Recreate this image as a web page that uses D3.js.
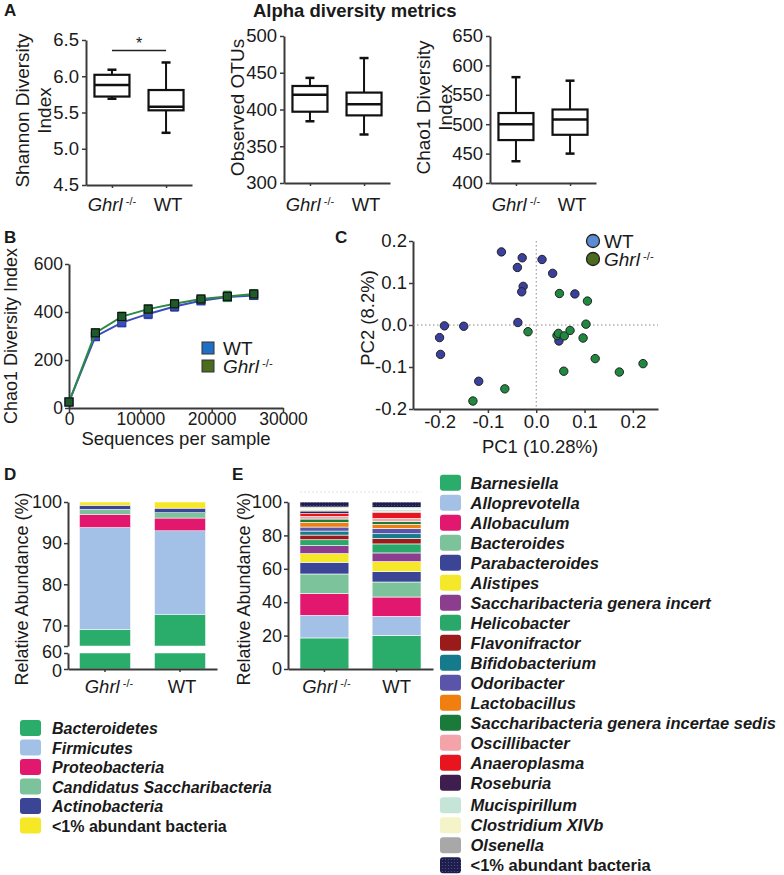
<!DOCTYPE html>
<html>
<head>
<meta charset="utf-8">
<script src="https://cdn.jsdelivr.net/npm/d3@7"></script>
<style>
body { margin: 0; background: #fff; }
svg { font-family: "Liberation Sans", Arial, sans-serif; }
</style>
</head>
<body>
<svg id="fig" width="784" height="875"></svg>
<script>
var groups = ["Ghrl", "WT"];

// A: box stats [min, q1, median, q3, max]
var shannonKO = [5.69, 5.72, 5.88, 6.02, 6.09];
var shannonWT = [5.22, 5.53, 5.58, 5.81, 6.19];
var otusKO = [384, 397, 420, 432, 443];
var otusWT = [366, 392, 407, 423, 470];
var chaoKO = [437, 473, 500, 519, 580];
var chaoWT = [450, 482, 508, 525, 574];

// B: rarefaction
var depth = [0, 3700, 7400, 11100, 14800, 18500, 22200, 25900];
var rareWT = [25, 298, 356, 392, 423, 447, 462, 469];
var rareWTerr = [8, 16, 16, 18, 18, 15, 14, 14];
var rareKO = [25, 313, 381, 412, 434, 454, 465, 475];
var rareKOerr = [8, 16, 17, 17, 16, 15, 20, 17];

// C: PCoA
var pc1WT = [-0.072, -0.029, -0.039, -0.027, -0.030, 0.012, 0.034, 0.080, -0.038, -0.190, -0.150, -0.200, -0.198, -0.119, 0.047];
var pc2WT = [0.174, 0.160, 0.137, 0.092, 0.079, 0.156, 0.123, 0.074, 0.006, -0.002, -0.003, -0.030, -0.070, -0.134, -0.038];
var pc1KO = [0.048, 0.106, 0.103, -0.017, 0.043, 0.046, 0.058, 0.070, 0.097, 0.122, 0.057, 0.172, 0.221, -0.065, -0.131];
var pc2KO = [0.075, 0.057, 0.002, -0.016, -0.025, -0.020, -0.026, -0.013, -0.031, -0.080, -0.110, -0.112, -0.092, -0.152, -0.181];

// D: phyla
var phyla = ["Bacteroidetes", "Firmicutes", "Proteobacteria", "Candidatus Saccharibacteria", "Actinobacteria", "<1% abundant bacteria"];
var phylaColors = ["#2aac6a", "#a3c1e6", "#e2186f", "#7cc29a", "#3a4596", "#f7e827"];
var phylaKO = [69.0, 24.8, 3.2, 1.2, 1.0, 0.8];
var phylaWT = [72.6, 20.4, 3.1, 1.3, 1.1, 1.5];

// E: genera
var genera = ["Barnesiella", "Alloprevotella", "Allobaculum", "Bacteroides", "Parabacteroides", "Alistipes",
  "Saccharibacteria genera incert", "Helicobacter", "Flavonifractor", "Bifidobacterium", "Odoribacter",
  "Lactobacillus", "Saccharibacteria genera incertae sedis", "Oscillibacter", "Anaeroplasma", "Roseburia",
  "Mucispirillum", "Clostridium XIVb", "Olsenella", "<1% abundant bacteria"];
var generaColors = ["#2aac6a", "#a3c1e6", "#e2186f", "#7cc29a", "#3a4596", "#f5e82a", "#8c3d8e", "#2aa86a",
  "#9b1a1a", "#157a8c", "#5a55a8", "#f07f10", "#1a7a3a", "#f4a3a8", "#e8141e", "#3e1e4e", "#c5e5d8",
  "#f5f3c8", "#a8a8a8", "url(#dots)"];
var generaKO = [18.6, 13.5, 13.0, 11.8, 7.0, 5.2, 4.8, 3.5, 2.8, 2.4, 2.4, 2.8, 2.0, 1.6, 1.6, 1.6, 0.8, 1.0, 0.6, 3.0];
var generaWT = [20.0, 11.5, 11.6, 9.0, 6.2, 6.0, 5.2, 5.4, 3.3, 2.8, 3.2, 2.4, 1.6, 2.0, 3.6, 0.6, 1.0, 0.8, 0.6, 3.2];

var svg = d3.select("#fig");
var axisColor = "#3a3a3a";
var ink = "#1a1a1a";

var defs = svg.append("defs");
var pat = defs.append("pattern").attr("id", "dots").attr("width", 3).attr("height", 3)
  .attr("patternUnits", "userSpaceOnUse");
pat.append("rect").attr("width", 3).attr("height", 3).attr("fill", "#1e1e4e");
pat.append("circle").attr("cx", 1.5).attr("cy", 1.5).attr("r", 0.6).attr("fill", "#55558a");

function styleAxis(g, size) {
  g.select(".domain").attr("stroke", axisColor).attr("stroke-width", 2);
  g.selectAll(".tick line").attr("stroke", axisColor).attr("stroke-width", 1.5);
  g.selectAll(".tick text").attr("fill", ink).style("font-size", size + "px")
    .style("font-family", '"Liberation Sans", Arial, sans-serif');
}

// italic Ghrl with -/- superscript
function groupText(sel, name, size) {
  if (name === "Ghrl") {
    sel.append("tspan").style("font-style", "italic").text("Ghrl");
    sel.append("tspan").style("font-size", (size * 0.6) + "px").attr("dy", -size * 0.3).text(" -/-");
  } else {
    sel.text(name);
  }
}

function panelLetter(x, y, t) {
  svg.append("text").attr("x", x).attr("y", y).style("font-size", "17px").style("font-weight", "bold")
    .attr("fill", ink).text(t);
}

function vLabel(x, y, t, size) {
  svg.append("text").attr("transform", "translate(" + x + "," + y + ") rotate(-90)")
    .attr("text-anchor", "middle").style("font-size", size + "px").attr("fill", ink).text(t);
}

// ---------- Panel A ----------
panelLetter(4, 16, "A");
svg.append("text").attr("x", 253).attr("y", 17).style("font-size", "18.5px").style("font-weight", "bold")
  .attr("fill", ink).text("Alpha diversity metrics");

var boxPanels = [
  { x0: 86, top: 40, bottom: 185, domain: [4.5, 6.5], ticks: [4.5, 5, 5.5, 6, 6.5], fmt: d3.format(".1f"),
    ko: shannonKO, wt: shannonWT, label: ["Shannon Diversity", "Index"], lx: [29, 51] },
  { x0: 284, top: 36, bottom: 183, domain: [300, 500], ticks: [300, 350, 400, 450, 500], fmt: d3.format("d"),
    ko: otusKO, wt: otusWT, label: ["Observed OTUs"], lx: [244] },
  { x0: 490, top: 36, bottom: 183, domain: [400, 650], ticks: [400, 450, 500, 550, 600, 650], fmt: d3.format("d"),
    ko: chaoKO, wt: chaoWT, label: ["Chao1 Diversity", "Index"], lx: [430, 452] }
];

boxPanels.forEach(function(p, pi) {
  var y = d3.scaleLinear().domain(p.domain).range([p.bottom, p.top]);
  var x = d3.scalePoint().domain(groups).range([p.x0, p.x0 + 106]).padding(0.48);
  var g = svg.append("g");

  var ya = g.append("g").attr("transform", "translate(" + p.x0 + ",0)")
    .call(d3.axisLeft(y).tickValues(p.ticks).tickFormat(p.fmt).tickSize(4).tickSizeOuter(0).tickPadding(3));
  styleAxis(ya, 18.5);
  var xa = g.append("g").attr("transform", "translate(0," + p.bottom + ")")
    .call(d3.axisBottom(x).tickFormat("").tickSize(3).tickSizeOuter(0));
  styleAxis(xa, 18);

  groups.forEach(function(name, i) {
    var s = i === 0 ? p.ko : p.wt;
    var cx = x(name), w = 35, cap = 9;
    var bg = g.append("g").attr("stroke", "#111").attr("fill", "none");
    bg.append("line").attr("x1", cx).attr("x2", cx).attr("y1", y(s[4])).attr("y2", y(s[3])).attr("stroke-width", 2);
    bg.append("line").attr("x1", cx).attr("x2", cx).attr("y1", y(s[1])).attr("y2", y(s[0])).attr("stroke-width", 2);
    bg.append("line").attr("x1", cx - cap / 2).attr("x2", cx + cap / 2).attr("y1", y(s[4])).attr("y2", y(s[4])).attr("stroke-width", 2.5);
    bg.append("line").attr("x1", cx - cap / 2).attr("x2", cx + cap / 2).attr("y1", y(s[0])).attr("y2", y(s[0])).attr("stroke-width", 2.5);
    bg.append("rect").attr("x", cx - w / 2).attr("width", w).attr("y", y(s[3])).attr("height", y(s[1]) - y(s[3]))
      .attr("fill", "#fff").attr("stroke-width", 2.2);
    bg.append("line").attr("x1", cx - w / 2).attr("x2", cx + w / 2).attr("y1", y(s[2])).attr("y2", y(s[2])).attr("stroke-width", 2.5);

    var t = g.append("text").attr("x", cx + (name === "Ghrl" ? 0 : 2)).attr("y", 211).attr("text-anchor", "middle")
      .style("font-size", "18.5px").attr("fill", ink);
    groupText(t, name, 18.5);
  });

  var cy = (p.top + p.bottom) / 2 - 2;
  p.label.forEach(function(l, k) { vLabel(p.lx[k], cy, l, 19); });

  if (pi === 0) {
    g.append("line").attr("x1", x("Ghrl")).attr("x2", x("WT")).attr("y1", 50.5).attr("y2", 50.5)
      .attr("stroke", "#222").attr("stroke-width", 1.3);
    g.append("text").attr("x", (x("Ghrl") + x("WT")) / 2).attr("y", 49).attr("text-anchor", "middle")
      .style("font-size", "16px").attr("fill", ink).text("*");
  }
});

// ---------- Panel B ----------
panelLetter(4, 243, "B");
var xB = d3.scaleLinear().domain([0, 30000]).range([69, 283]);
var yB = d3.scaleLinear().domain([0, 600]).range([408, 264]);
var gB = svg.append("g");
var bya = gB.append("g").attr("transform", "translate(69,0)")
  .call(d3.axisLeft(yB).tickValues([0, 200, 400, 600]).tickSize(4).tickSizeOuter(0).tickPadding(2));
styleAxis(bya, 17.5);
var bxa = gB.append("g").attr("transform", "translate(0,408)")
  .call(d3.axisBottom(xB).tickValues([0, 10000, 20000, 30000]).tickFormat(d3.format("d")).tickSize(4).tickSizeOuter(0).tickPadding(1));
styleAxis(bxa, 17.5);
vLabel(17, 336, "Chao1 Diversity Index", 18);
gB.append("text").attr("x", 176).attr("y", 445).attr("text-anchor", "middle").style("font-size", "18.5px")
  .attr("fill", ink).text("Sequences per sample");

var seriesB = [
  { vals: rareWT, err: rareWTerr, line: "#3a4dbd", mark: "#3a4dbd", edge: "#2a3a9a" },
  { vals: rareKO, err: rareKOerr, line: "#2d8a46", mark: "#1f5a2a", edge: "#111" }
];
seriesB.forEach(function(s) {
  var pts = depth.map(function(d, i) { return [d, s.vals[i], s.err[i]]; });
  gB.append("path").datum(pts).attr("fill", "none").attr("stroke", s.line).attr("stroke-width", 2)
    .attr("d", d3.line().x(function(d) { return xB(d[0]); }).y(function(d) { return yB(d[1]); }));
  var eg = gB.append("g").attr("stroke", s.line).attr("stroke-width", 1.8);
  pts.forEach(function(d) {
    var cx = xB(d[0]);
    eg.append("line").attr("x1", cx).attr("x2", cx).attr("y1", yB(d[1] - d[2])).attr("y2", yB(d[1] + d[2]));
    eg.append("line").attr("x1", cx - 4).attr("x2", cx + 4).attr("y1", yB(d[1] - d[2])).attr("y2", yB(d[1] - d[2]));
    eg.append("line").attr("x1", cx - 4).attr("x2", cx + 4).attr("y1", yB(d[1] + d[2])).attr("y2", yB(d[1] + d[2]));
  });
  gB.selectAll(null).data(pts).enter().append("rect")
    .attr("x", function(d) { return xB(d[0]) - 4; }).attr("y", function(d) { return yB(d[1]) - 4; })
    .attr("width", 8).attr("height", 8).attr("fill", s.mark).attr("stroke", s.edge).attr("stroke-width", 1.2);
});
var legB = [{ name: "WT", fill: "#1f6fc4", y: 348 }, { name: "Ghrl", fill: "#4b6b1f", y: 366 }];
legB.forEach(function(l) {
  gB.append("rect").attr("x", 202).attr("y", l.y - 6).attr("width", 12).attr("height", 12)
    .attr("fill", l.fill).attr("stroke", "#333").attr("stroke-width", 1);
  var t = gB.append("text").attr("x", 223).attr("y", l.y + 6.5).style("font-size", "19px").attr("fill", ink);
  groupText(t, l.name, 19);
});

// ---------- Panel C ----------
panelLetter(335, 243, "C");
var xC = d3.scaleLinear().domain([-0.255, 0.252]).range([413, 658]);
var yC = d3.scaleLinear().domain([-0.2, 0.2]).range([409, 241]);
var gC = svg.append("g");
var fmtC = function(d) { return d.toFixed(1); };
var cya = gC.append("g").attr("transform", "translate(413,0)")
  .call(d3.axisLeft(yC).tickValues([-0.2, -0.1, 0, 0.1, 0.2]).tickFormat(fmtC).tickSize(4).tickSizeOuter(0).tickPadding(2));
styleAxis(cya, 18.5);
var cxa = gC.append("g").attr("transform", "translate(0,409)")
  .call(d3.axisBottom(xC).tickValues([-0.2, -0.1, 0, 0.1, 0.2]).tickFormat(fmtC).tickSize(4).tickSizeOuter(0).tickPadding(2));
styleAxis(cxa, 18.5);
gC.append("line").attr("x1", xC(0)).attr("x2", xC(0)).attr("y1", yC(0.2)).attr("y2", yC(-0.2))
  .attr("stroke", "#888").attr("stroke-width", 1).attr("stroke-dasharray", "1.5,2.5");
gC.append("line").attr("x1", xC(-0.255)).attr("x2", xC(0.252)).attr("y1", yC(0)).attr("y2", yC(0))
  .attr("stroke", "#888").attr("stroke-width", 1).attr("stroke-dasharray", "1.5,2.5");
vLabel(374, 318, "PC2 (8.2%)", 18.5);
gC.append("text").attr("x", 540).attr("y", 453).attr("text-anchor", "middle").style("font-size", "18.5px")
  .attr("fill", ink).text("PC1 (10.28%)");

var ptsC = [
  { xs: pc1WT, ys: pc2WT, fill: "#3b3f9e" },
  { xs: pc1KO, ys: pc2KO, fill: "#1f8a3f" }
];
ptsC.forEach(function(s) {
  gC.selectAll(null).data(s.xs).enter().append("circle")
    .attr("cx", function(d) { return xC(d); })
    .attr("cy", function(d, i) { return yC(s.ys[i]); })
    .attr("r", 4.2).attr("fill", s.fill).attr("stroke", "#222").attr("stroke-width", 1);
});
var legC = [{ name: "WT", fill: "#5b8bd0", y: 241 }, { name: "Ghrl", fill: "#4b6b1f", y: 259 }];
legC.forEach(function(l) {
  gC.append("circle").attr("cx", 593).attr("cy", l.y).attr("r", 6.5).attr("fill", l.fill)
    .attr("stroke", "#222").attr("stroke-width", 1.3);
  var t = gC.append("text").attr("x", 604).attr("y", l.y + 6.5).style("font-size", "19px").attr("fill", ink);
  groupText(t, l.name, 19);
});

// ---------- Panel D ----------
panelLetter(4, 480, "D");
var colorD = d3.scaleOrdinal().domain(phyla).range(phylaColors);
var yDtop = d3.scaleLinear().domain([65, 100]).range([646, 502]);
var yDbot = d3.scaleLinear().domain([0, 60]).range([669, 653]);
var xD = d3.scaleBand().domain(groups).range([68, 217]).paddingInner(0.32).paddingOuter(0.153);
var gD = svg.append("g");

var rowsD = groups.map(function(name, i) {
  var r = { group: name };
  phyla.forEach(function(p, j) { r[p] = (i === 0 ? phylaKO : phylaWT)[j]; });
  return r;
});
var stackD = d3.stack().keys(phyla)(rowsD);
stackD.forEach(function(layer) {
  layer.forEach(function(seg) {
    var lo = seg[0], hi = seg[1], bx = xD(seg.data.group);
    [[yDtop, 65, 100], [yDbot, 0, 60]].forEach(function(part) {
      var a = Math.max(lo, part[1]), b = Math.min(hi, part[2]);
      if (b > a) {
        gD.append("rect").attr("x", bx).attr("width", xD.bandwidth())
          .attr("y", part[0](b)).attr("height", part[0](a) - part[0](b))
          .attr("fill", colorD(layer.key)).attr("stroke", "#fff").attr("stroke-width", 0.5);
      }
    });
  });
});
var dya = gD.append("g").attr("transform", "translate(68,0)")
  .call(d3.axisLeft(yDtop).tickValues([65, 70, 80, 90, 100]).tickFormat(function(d) { return d === 65 ? "" : d; })
    .tickSize(4).tickSizeOuter(0).tickPadding(2));
styleAxis(dya, 18);
var dyb = gD.append("g").attr("transform", "translate(68,0)")
  .call(d3.axisLeft(yDbot).tickValues([0, 60]).tickSize(4).tickSizeOuter(0).tickPadding(2));
styleAxis(dyb, 18);
dyb.selectAll(".tick text").attr("dy", function(d) { return d === 0 ? "0.42em" : "0.26em"; });
var dxa = gD.append("g").attr("transform", "translate(0,669)")
  .call(d3.axisBottom(xD).tickFormat("").tickSize(3).tickSizeOuter(0));
styleAxis(dxa, 18);
groups.forEach(function(name) {
  var t = gD.append("text").attr("x", xD(name) + xD.bandwidth() / 2 + (name === "Ghrl" ? 4 : 2)).attr("y", 693)
    .attr("text-anchor", "middle").style("font-size", "18.5px").attr("fill", ink);
  groupText(t, name, 18.5);
});
vLabel(28, 589, "Relative Abundance (%)", 18);

phyla.forEach(function(p, i) {
  var cy = 728 + i * 19.5;
  gD.append("rect").attr("x", 20).attr("y", cy - 8).attr("width", 21).attr("height", 16).attr("rx", 3)
    .attr("fill", colorD(p));
  gD.append("text").attr("x", 52).attr("y", cy + 6).style("font-size", "16px").style("font-weight", "bold")
    .style("font-style", i === phyla.length - 1 ? "normal" : "italic").attr("fill", ink).text(p);
});

// ---------- Panel E ----------
panelLetter(232, 480, "E");
var colorE = d3.scaleOrdinal().domain(genera).range(generaColors);
var yE = d3.scaleLinear().domain([0, 100]).range([669, 502]);
var xE = d3.scaleBand().domain(groups).range([288, 433]).paddingInner(0.322).paddingOuter(0.166);
var gE = svg.append("g");
var rowsE = groups.map(function(name, i) {
  var r = { group: name };
  genera.forEach(function(k, j) { r[k] = (i === 0 ? generaKO : generaWT)[j]; });
  return r;
});
var stackE = d3.stack().keys(genera)(rowsE);
gE.append("line").attr("x1", xE("Ghrl")).attr("x2", xE("WT") + xE.bandwidth()).attr("y1", 492).attr("y2", 492)
  .attr("stroke", "#e2e2e2").attr("stroke-width", 1).attr("stroke-dasharray", "2,2");
gE.selectAll("g.layer").data(stackE).enter().append("g").attr("class", "layer")
  .attr("fill", function(d) { return colorE(d.key); })
  .selectAll("rect").data(function(d) { return d; }).enter().append("rect")
  .attr("x", function(d) { return xE(d.data.group); })
  .attr("width", xE.bandwidth())
  .attr("y", function(d) { return yE(d[1]); })
  .attr("height", function(d) { return yE(d[0]) - yE(d[1]); })
  .attr("stroke", "#fff").attr("stroke-width", 0.6);
var eya = gE.append("g").attr("transform", "translate(288,0)")
  .call(d3.axisLeft(yE).tickValues([0, 20, 40, 60, 80, 100]).tickSize(4).tickSizeOuter(0).tickPadding(2));
styleAxis(eya, 18);
var exa = gE.append("g").attr("transform", "translate(0,669)")
  .call(d3.axisBottom(xE).tickFormat("").tickSize(3).tickSizeOuter(0));
styleAxis(exa, 18);
groups.forEach(function(name) {
  var t = gE.append("text").attr("x", xE(name) + xE.bandwidth() / 2 + (name === "Ghrl" ? 2 : 0)).attr("y", 693)
    .attr("text-anchor", "middle").style("font-size", "18.5px").attr("fill", ink);
  groupText(t, name, 18.5);
});
vLabel(250, 589, "Relative Abundance (%)", 18);

genera.forEach(function(k, i) {
  var cy = 482.7 + i * 20 + (i >= 16 ? 2.6 : 0);
  gE.append("rect").attr("x", 440).attr("y", cy - 8).attr("width", 21).attr("height", 16).attr("rx", 3)
    .attr("fill", colorE(k));
  gE.append("text").attr("x", 470.5).attr("y", cy + 6).style("font-size", "16.5px").style("font-weight", "bold")
    .style("font-style", i === genera.length - 1 ? "normal" : "italic").attr("fill", ink).text(k);
});
</script>
</body>
</html>
